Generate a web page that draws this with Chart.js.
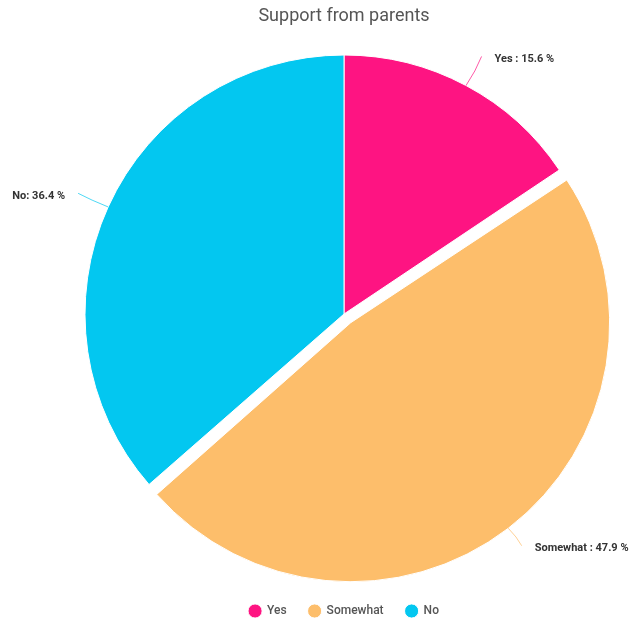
<!doctype html>
<html>
<head>
    <title>Support from parents</title>
    <script src="https://cdn.jsdelivr.net/npm/chart.js"></script>
    <style>
        html, body {
            margin: 0;
            padding: 0;
            background: #fff;
        }
    </style>
</head>
<body>
    <canvas id="pieChart" width="630" height="620"></canvas>

    <script>
        const categories = ['Yes', 'Somewhat', 'No'];
        const shares = [15.6, 47.9, 36.4];
        const labelSeparators = [' : ', ' : ', ': '];
        const sliceColors = ['#FE1482', '#FDBE6B', '#03C7F0'];
        // how far each slice is pulled out, in px
        const pullOut = [0, 11, 0];

        // Chart.js also grows the radius of an offset arc; undo that so the
        // pulled slice keeps the same size as the others
        const keepRadius = {
            id: 'keepRadius',
            afterDatasetUpdate(chart, args) {
                args.meta.data.forEach((arc, i) => {
                    const t = pullOut[i];
                    if (!t) return;
                    const fix = 1 - Math.sin(Math.min(Math.PI, arc.circumference));
                    arc.outerRadius -= t * fix;
                });
            }
        };

        // leader lines + value labels outside the pie
        const outsideLabels = {
            id: 'outsideLabels',
            afterDatasetsDraw(chart) {
                const ctx = chart.ctx;
                const meta = chart.getDatasetMeta(0);
                const R = meta.controller.outerRadius;
                ctx.save();
                ctx.font = 'bold 11px Roboto';
                ctx.textBaseline = 'middle';
                meta.data.forEach((arc, i) => {
                    const mid = (arc.startAngle + arc.endAngle) / 2;
                    const dx = Math.cos(mid), dy = Math.sin(mid);
                    const r0 = R + pullOut[i];
                    const ex = arc.x + dx * r0, ey = arc.y + dy * r0;
                    const qx = arc.x + dx * (R + 33), qy = arc.y + dy * (R + 33);
                    const side = dx >= 0 ? 1 : -1;
                    const cx = (ex + qx) / 2 + side * 2, cy = (ey + qy) / 2;

                    ctx.strokeStyle = sliceColors[i];
                    ctx.globalAlpha = 0.7;
                    ctx.lineWidth = 1;
                    ctx.beginPath();
                    ctx.moveTo(ex, ey);
                    ctx.quadraticCurveTo(cx, cy, qx, qy);
                    ctx.stroke();
                    ctx.globalAlpha = 1;

                    ctx.fillStyle = '#333';
                    ctx.textAlign = side > 0 ? 'left' : 'right';
                    const text = categories[i] + labelSeparators[i] + shares[i] + ' %';
                    ctx.fillText(text, qx + side * 13, qy + 2.5);
                });
                ctx.restore();
            }
        };

        new Chart(document.getElementById('pieChart'), {
            type: 'pie',
            data: {
                labels: categories,
                datasets: [{
                    data: shares,
                    backgroundColor: sliceColors,
                    borderColor: '#fff',
                    borderWidth: 1,
                    offset: pullOut.map(p => p * 4),
                    radius: 259,
                    clip: false
                }]
            },
            options: {
                responsive: false,
                animation: false,
                layout: {
                    padding: { left: 58, right: 0, top: 0, bottom: 0 }
                },
                plugins: {
                    title: {
                        display: true,
                        text: 'Support from parents',
                        color: '#555',
                        font: { family: 'Roboto', size: 18, weight: 'normal' },
                        padding: { top: 6, bottom: 17.4 }
                    },
                    legend: {
                        position: 'bottom',
                        maxHeight: 37,
                        labels: {
                            usePointStyle: true,
                            pointStyle: 'circle',
                            boxWidth: 12,
                            boxHeight: 10,
                            padding: 22,
                            color: '#555',
                            font: { family: 'Roboto', size: 12, weight: '500' }
                        }
                    },
                    tooltip: { enabled: false }
                }
            },
            plugins: [keepRadius, outsideLabels]
        });
    </script>
</body>
</html>
